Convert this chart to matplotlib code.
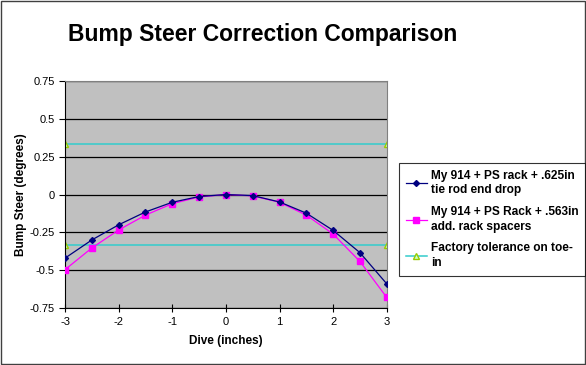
import matplotlib
matplotlib.use("Agg")
import matplotlib.pyplot as plt

plt.rcParams['font.family'] = ['Liberation Sans', 'DejaVu Sans']
plt.rcParams['axes.unicode_minus'] = False

# datos
dive = [-3, -2.5, -2, -1.5, -1, -0.5, 0, 0.5, 1, 1.5, 2, 2.5, 3]
tie_rod_drop = [-0.42, -0.30, -0.20, -0.115, -0.051, -0.013, 0.0, -0.007, -0.049, -0.123, -0.237, -0.384, -0.59]
rack_spacers = [-0.496, -0.353, -0.234, -0.136, -0.060, -0.016, 0.0, -0.009, -0.051, -0.136, -0.261, -0.442, -0.68]
tol_x = [-3, 3]
tol_upper = [0.333, 0.333]
tol_lower = [-0.333, -0.333]
y_ticks = [-0.75, -0.5, -0.25, 0, 0.25, 0.5, 0.75]
y_tick_labels = ['-0.75', '-0.5', '-0.25', '0', '0.25', '0.5', '0.75']
x_ticks = [-3, -2, -1, 0, 1, 2, 3]

fig = plt.figure(figsize=(5.86, 3.65), dpi=100)
fig.patches.append(plt.Rectangle((0.001, 0.002), 0.997, 0.995, transform=fig.transFigure,
                                 fill=False, edgecolor='#404040', linewidth=1))
ax = fig.add_axes([0.111, 0.156, 0.549, 0.622])
ax.set_facecolor('#C0C0C0')

ax.plot(dive, tie_rod_drop, color='#000080', marker='D', markersize=3, linewidth=0.9,
        label='My 914 + PS rack + .625in\ntie rod end drop', zorder=4)
ax.plot(dive, rack_spacers, color='#FF00FF', marker='s', markersize=4, linewidth=0.9,
        label='My 914 + PS Rack + .563in\nadd. rack spacers', zorder=3)
ax.plot(tol_x, tol_upper, color='#33CCCC', marker='^', markersize=4, markerfacecolor='#CCFFCC',
        markeredgecolor='#99CC00', linewidth=1.1, label='Factory tolerance on toe-\nin', zorder=2)
ax.plot(tol_x, tol_lower, color='#33CCCC', marker='^', markersize=4, markerfacecolor='#CCFFCC',
        markeredgecolor='#99CC00', linewidth=1.1, zorder=2)

ax.set_xlim(-3, 3)
ax.set_ylim(-0.75, 0.75)
ax.set_yticks(y_ticks)
ax.set_yticklabels(y_tick_labels)
ax.set_xticks(x_ticks)
ax.yaxis.grid(True, color='black', linewidth=0.9)
ax.set_axisbelow(True)
ax.tick_params(axis='both', labelsize=8, direction='out', length=4, width=0.8)
ax.tick_params(axis='x', direction='inout', length=6)
for s in ['top', 'right']:
    ax.spines[s].set_color('#808080')
for s in ['left', 'bottom']:
    ax.spines[s].set_color('black')

ax.set_xlabel('Dive (inches)', fontsize=8.5, fontweight='bold', labelpad=6)
ax.set_ylabel('Bump Steer (degrees)', fontsize=8.5, fontweight='bold', labelpad=2)

fig.text(0.448, 0.905, 'Bump Steer Correction Comparison', fontsize=16.5, fontweight='bold',
         ha='center', va='center')

leg = fig.legend(loc='upper left', bbox_to_anchor=(0.681, 0.553), fontsize=8.6,
                 frameon=True, fancybox=False, edgecolor='black', handlelength=1.8,
                 borderpad=0.55, labelspacing=0.8, handletextpad=0.3, borderaxespad=0)
leg.get_frame().set_linewidth(0.8)
for t in leg.get_texts():
    t.set_fontweight('bold')
    t.set_linespacing(1.3)

fig.savefig('out.png', dpi=100)
